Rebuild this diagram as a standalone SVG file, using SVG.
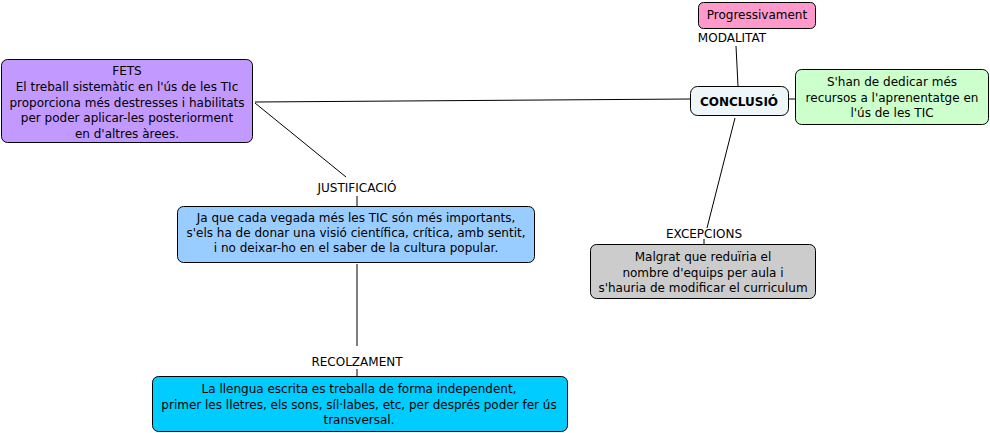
<svg xmlns="http://www.w3.org/2000/svg" width="990" height="433" viewBox="0 0 990 433">
<style>
text{font-family:"DejaVu Sans",Verdana,sans-serif;font-size:12px;fill:#000;text-anchor:middle}
.n{stroke:#000;stroke-width:1}
.c line{stroke:#000;stroke-width:1}
.b{font-weight:bold}
</style>
<rect width="990" height="433" fill="#fff"/>
<g class="c" id="connectors">
<line x1="736" y1="46" x2="738" y2="86"/>
<line x1="788" y1="99" x2="795" y2="99"/>
<line x1="255" y1="102" x2="690" y2="99"/>
<line x1="255" y1="103" x2="346" y2="177"/>
<line x1="357" y1="196" x2="357" y2="206"/>
<line x1="357" y1="264" x2="357" y2="346"/>
<line x1="357" y1="369" x2="357" y2="376"/>
<line x1="735" y1="118" x2="707" y2="228"/>
<line x1="704" y1="239" x2="704" y2="244"/>
</g>
<g id="label-modalitat"><text x="732" y="42">MODALITAT</text></g>
<g id="label-justificacio"><text x="357" y="192">JUSTIFICACIÓ</text></g>
<g id="label-recolzament"><text x="357" y="366">RECOLZAMENT</text></g>
<g id="label-excepcions"><text x="704" y="238">EXCEPCIONS</text></g>
<g id="progressivament">
<rect class="n" x="698.5" y="2.5" width="117" height="26" rx="5" fill="#ff99cc"/>
<text x="757" y="19">Progressivament</text>
</g>
<g id="conclusio">
<rect class="n" x="690.5" y="86.5" width="98" height="29" rx="7" fill="#eef6fa"/>
<text class="b" x="739" y="106">CONCLUSIÓ</text>
</g>
<g id="shan">
<rect class="n" x="795.5" y="69.5" width="193" height="55" rx="6" fill="#ccffcc"/>
<text x="892" y="86">S'han de dedicar més</text>
<text x="892" y="101.5">recursos a l'aprenentatge en</text>
<text x="892" y="117">l'ús de les TIC</text>
</g>
<g id="fets">
<rect class="n" x="1.5" y="59.5" width="251" height="83" rx="6" fill="#c299ff"/>
<text x="127" y="75">FETS</text>
<text x="127" y="91">El treball sistemàtic en l'ús de les TIc</text>
<text x="127" y="106.5">proporciona més destresses i habilitats</text>
<text x="127" y="122">per poder aplicar-les posteriorment</text>
<text x="127" y="137.5">en d'altres àrees.</text>
</g>
<g id="justificacio">
<rect class="n" x="177.5" y="206.5" width="357" height="56" rx="6" fill="#99ccff"/>
<text x="356" y="222">Ja que cada vegada més les TIC són més importants,</text>
<text x="356" y="237">s'els ha de donar una visió científica, crítica, amb sentit,</text>
<text x="356" y="252">i no deixar-ho en el saber de la cultura popular.</text>
</g>
<g id="recolzament">
<rect class="n" x="152.5" y="376.5" width="415" height="55" rx="6" fill="#00ccff"/>
<text x="359" y="393">La llengua escrita es treballa de forma independent,</text>
<text x="359" y="408.5">primer les lletres, els sons, síl·labes, etc, per després poder fer ús</text>
<text x="359" y="424">transversal.</text>
</g>
<g id="excepcions">
<rect class="n" x="590.5" y="244.5" width="225" height="54" rx="6" fill="#cccccc"/>
<text x="703" y="261">Malgrat que reduïria el</text>
<text x="703" y="276.5">nombre d'equips per aula i</text>
<text x="703" y="292">s'hauria de modificar el curriculum</text>
</g>
</svg>
